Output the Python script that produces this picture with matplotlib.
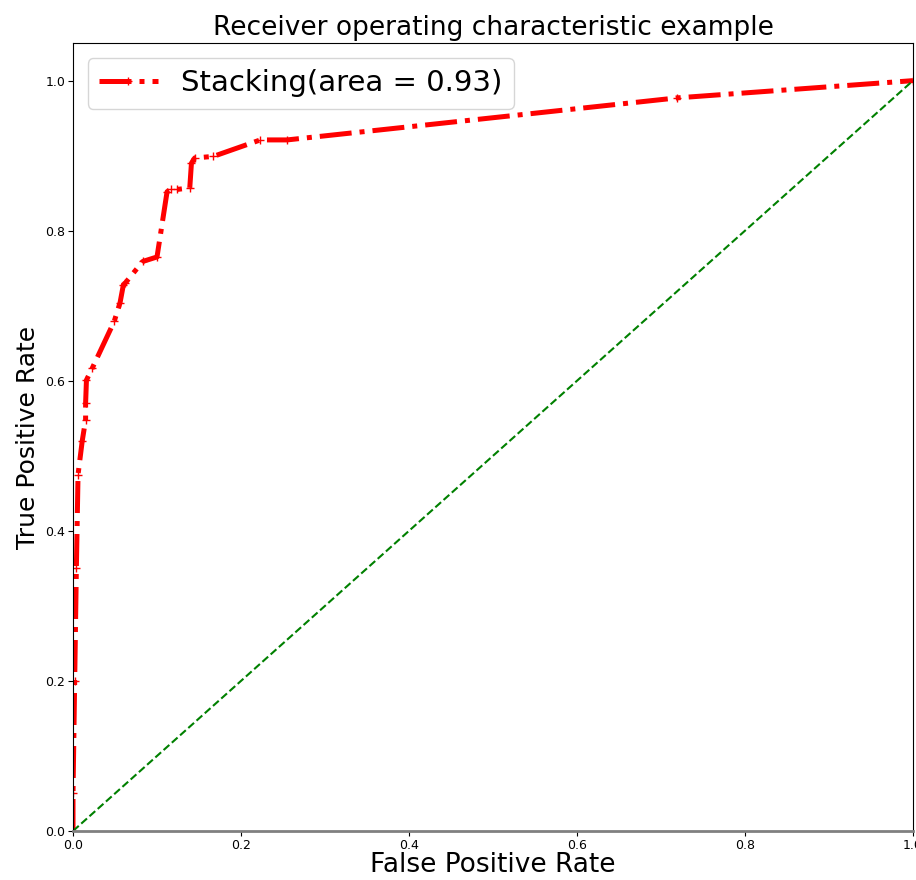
import matplotlib
matplotlib.use("Agg")
import matplotlib.pyplot as plt

# ROC points
fpr = [0.0, 0.0, 0.002, 0.004, 0.006, 0.011, 0.015, 0.015, 0.016, 0.023,
       0.049, 0.056, 0.060, 0.062, 0.083, 0.100, 0.112, 0.117, 0.124, 0.139,
       0.141, 0.145, 0.167, 0.223, 0.255, 0.719, 1.0]
tpr = [0.0, 0.05, 0.20, 0.35, 0.475, 0.52, 0.548, 0.57, 0.601, 0.617,
       0.679, 0.704, 0.728, 0.730, 0.759, 0.765, 0.852, 0.855, 0.855, 0.857,
       0.890, 0.897, 0.899, 0.921, 0.921, 0.977, 1.0]
roc_auc = 0.93
diag = [0, 1]

fig = plt.figure(figsize=(9.16, 8.8), dpi=100)
ax = fig.add_axes([0.0797, 0.0557, 0.9170, 0.8953])

ax.plot(fpr, tpr, color="red", linestyle="-.", linewidth=3.6, marker="+",
        markersize=6, label="Stacking(area = %0.2f)" % roc_auc)
ax.plot(diag, diag, color="green", linestyle="--", linewidth=1.5)

ax.set_xlim(0.0, 1.0)
ax.set_ylim(0.0, 1.05)
ax.tick_params(labelsize=9, pad=2)
ax.spines["bottom"].set_color("gray")
ax.spines["bottom"].set_linewidth(2)

ax.set_xlabel("False Positive Rate", fontsize=19, labelpad=0)
ax.set_ylabel("True Positive Rate", fontsize=18)
ax.set_title("Receiver operating characteristic example", fontsize=19)
ax.legend(loc="upper left", fontsize=21)

fig.savefig("out.png", dpi=100)
